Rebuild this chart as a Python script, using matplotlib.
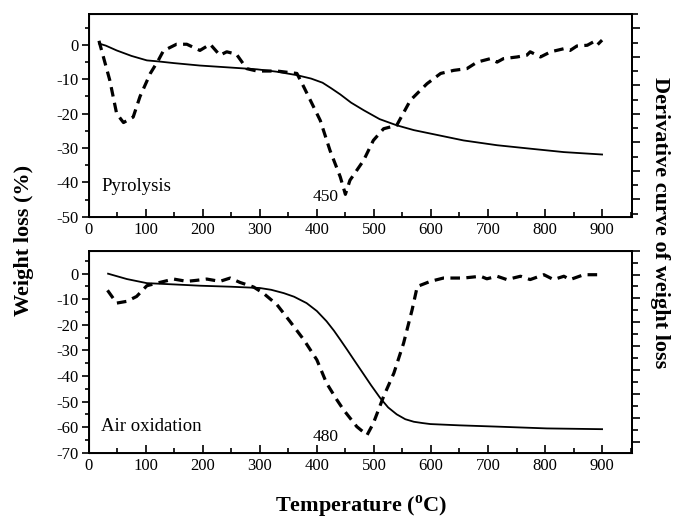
import matplotlib
matplotlib.use("Agg")
import matplotlib.pyplot as plt
from matplotlib.ticker import MultipleLocator

plt.rcParams['font.family'] = ['Liberation Serif', 'DejaVu Serif']
plt.rcParams['mathtext.fontset'] = 'custom'
plt.rcParams['mathtext.rm'] = 'Liberation Serif'
plt.rcParams['mathtext.bf'] = 'Liberation Serif:bold'
plt.rcParams['axes.unicode_minus'] = False

# pyrolysis: weight loss (solid) and derivative (dashed)
pyro_t = [18, 30, 49, 75, 102, 122, 150, 195, 250, 295, 330, 365, 390, 410, 425, 441,
          460, 482, 510, 540, 570, 599, 657, 716, 774, 833, 900]
pyro_w = [0.4, -0.2, -1.6, -3.2, -4.5, -4.8, -5.3, -6.0, -6.6, -7.1, -7.8, -8.8, -9.8, -11.0,
          -12.6, -14.4, -16.8, -19.0, -21.6, -23.4, -24.8, -25.8, -27.8, -29.2, -30.2, -31.2, -31.9]
pyro_dt = [18, 37, 49, 61, 78, 90, 108, 122, 131, 154, 172, 195, 213, 230, 242, 259, 277, 295,
           330, 365, 377, 406, 423, 441, 450, 458, 482, 499, 517, 540, 564, 593, 617, 640, 663,
           681, 704, 716, 727, 751, 768, 774, 792, 810, 833, 844, 856, 874, 885, 891, 900]
pyro_d = [1.2, -10.3, -20, -22.6, -21, -15, -8.3, -4.5, -1.7, 0.2, 0.2, -1.6, 0.2, -3, -2, -2.7,
          -6.9, -7.6, -7.6, -8.3, -12.2, -22, -30.7, -38.4, -43.5, -39.4, -33.6, -27.8, -24.4,
          -23.4, -16.1, -11.3, -8.3, -7.4, -6.9, -5, -4, -5, -4, -3.5, -3, -2, -3.5, -2, -1.1,
          -1.6, -0.3, -0.1, 0.9, -0.1, 1.4]

# air oxidation
air_t = [34, 67, 102, 150, 195, 250, 300, 320, 342, 360, 382, 400, 417, 430, 441, 453, 465,
         482, 495, 511, 525, 540, 555, 570, 585, 599, 650, 716, 803, 900]
air_w = [0, -2.1, -3.7, -4.2, -4.7, -5.1, -5.6, -6.3, -7.6, -9.0, -11.5, -14.6, -18.6, -22.3,
         -25.8, -29.7, -33.7, -39.3, -43.6, -48.6, -52.3, -55.0, -56.9, -57.9, -58.4, -58.8,
         -59.3, -59.8, -60.5, -60.8]
air_dt = [33, 49, 67, 84, 102, 125, 149, 172, 189, 207, 230, 248, 265, 289, 306, 330, 353, 377,
          400, 417, 435, 447, 470, 488, 499, 517, 535, 552, 567, 576, 599, 622, 657, 687, 698,
          716, 733, 757, 774, 798, 815, 833, 844, 868, 900]
air_d = [-6.5, -11.5, -10.8, -8.9, -4.7, -3.4, -2.1, -3, -2.6, -2.1, -3, -1.7, -3.4, -5.2, -7.6,
         -12.1, -18.7, -25.8, -33.7, -42.8, -49.3, -53.3, -59.8, -63.1, -58.5, -48, -38.9, -27.2,
         -14.1, -5, -3, -1.7, -1.7, -1, -2, -1, -2.3, -1, -2.3, -0.4, -2.3, -1, -2.3, -0.4, -0.4]

fig = plt.figure(figsize=(6.75, 5.23), dpi=100)
ax1 = fig.add_axes([0.1314, 0.5857, 0.8045, 0.3875])
ax2 = fig.add_axes([0.1314, 0.1344, 0.8045, 0.3863])

panels = [
    (ax1, pyro_t, pyro_w, pyro_dt, pyro_d, (-50, 9), 'Pyrolysis', -42.5, '450', -45.5, (-1.22, 13.0)),
    (ax2, air_t, air_w, air_dt, air_d, (-70, 9), 'Air oxidation', -61.5, '480', -65.5, (-0.92, 16.0)),
]

for ax, t, w, dt, d, ylim, name, name_y, peak, peak_y, tw_lim in panels:
    ax.plot(t, w, color='black', lw=1.3)
    ax.plot(dt, d, color='black', lw=2.3, linestyle=(0, (3, 2)))
    ax.set_xlim(0, 952)
    ax.set_ylim(*ylim)
    ax.xaxis.set_minor_locator(MultipleLocator(50))
    ax.yaxis.set_major_locator(MultipleLocator(10))
    ax.yaxis.set_minor_locator(MultipleLocator(5))
    ax.set_xticks(range(0, 901, 100))
    ax.tick_params(axis='x', which='major', direction='in', length=6, width=1.2, labelsize=12)
    ax.tick_params(axis='x', which='minor', direction='in', length=3.5, width=1.2)
    ax.tick_params(axis='y', which='major', direction='out', length=5, width=1.2, labelsize=12, pad=2)
    ax.tick_params(axis='y', which='minor', direction='out', length=3, width=1.2)
    for s in ax.spines.values():
        s.set_linewidth(1.4)
    ax.text(22, name_y, name, fontsize=13.5)
    ax.text(415, peak_y, peak, fontsize=12.5, ha='center')

    tw = ax.twinx()
    tw.set_ylim(*tw_lim)
    tw.yaxis.set_major_locator(MultipleLocator(2))
    tw.yaxis.set_minor_locator(MultipleLocator(1))
    tw.tick_params(axis='y', which='major', direction='out', length=6, width=1.2, labelright=False)
    tw.tick_params(axis='y', which='minor', direction='out', length=4, width=1.2)
    tw.spines['right'].set_linewidth(1.4)

fig.text(0.036, 0.54, 'Weight loss (%)', rotation=90, fontsize=16, fontweight='bold',
         ha='center', va='center')
fig.text(0.978, 0.574, 'Derivative curve of weight loss', rotation=-90, fontsize=16,
         fontweight='bold', ha='center', va='center')
fig.text(0.535, 0.031, r'Temperature ($^{\mathbf{o}}$C)', fontsize=16, fontweight='bold',
         ha='center', va='center')

fig.savefig('out.png', dpi=100)
